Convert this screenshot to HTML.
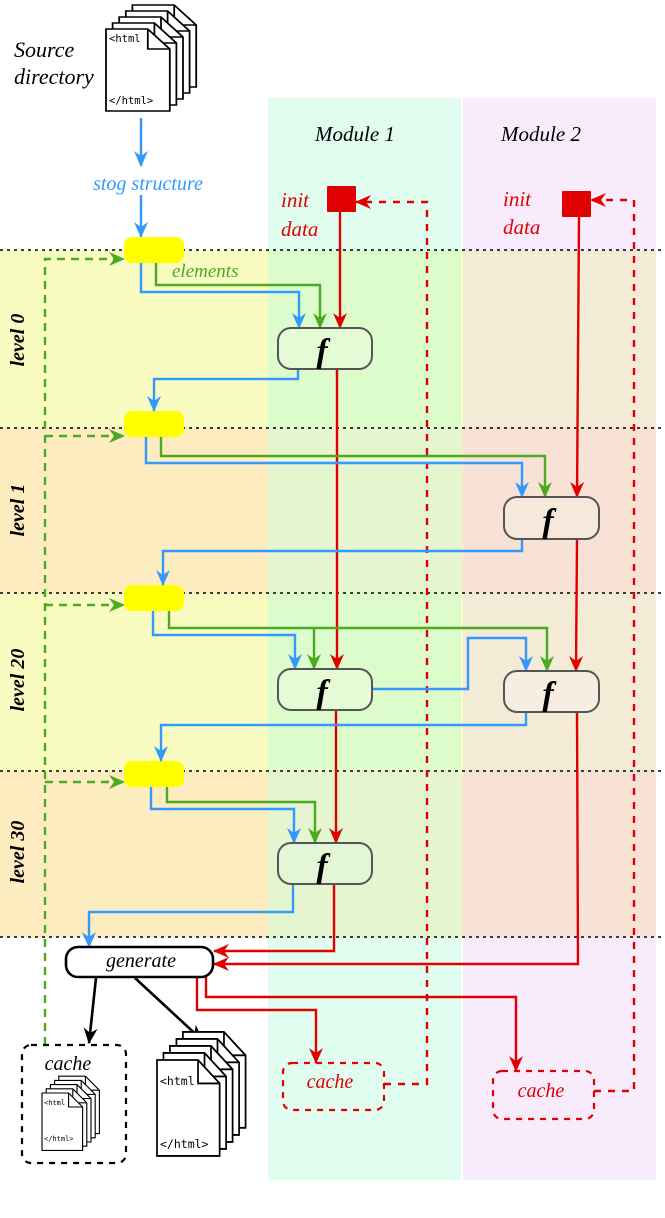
<!DOCTYPE html>
<html><head><meta charset="utf-8"><style>
html,body{margin:0;padding:0;background:#fff}
svg{display:block}
.it{font-family:"Liberation Serif",serif;font-style:italic}
.mono{font-family:"DejaVu Sans Mono","Liberation Mono",monospace}
</style></head><body>
<svg width="665" height="1218" viewBox="0 0 665 1218" xmlns="http://www.w3.org/2000/svg">
<defs>
<marker id="ab" markerUnits="userSpaceOnUse" markerWidth="18" markerHeight="18" refX="15" refY="8" orient="auto"><path d="M0,1 L16,8 L0,15 L5,8 z" fill="#3399ff"/></marker>
<marker id="ag" markerUnits="userSpaceOnUse" markerWidth="18" markerHeight="18" refX="15" refY="8" orient="auto"><path d="M0,1 L16,8 L0,15 L5,8 z" fill="#4aaa22"/></marker>
<marker id="ar" markerUnits="userSpaceOnUse" markerWidth="18" markerHeight="18" refX="15" refY="8" orient="auto"><path d="M0,1 L16,8 L0,15 L5,8 z" fill="#e00000"/></marker>
<marker id="ak" markerUnits="userSpaceOnUse" markerWidth="18" markerHeight="18" refX="15" refY="8" orient="auto"><path d="M0,1 L16,8 L0,15 L5,8 z" fill="#000"/></marker>
<g id="page">
<path d="M0,0 L38,0 L58,20 L58,82 L0,82 z" fill="#fff" stroke="#000" stroke-width="1.6"/>
<path d="M38,0 L38,20 L58,20" fill="none" stroke="#000" stroke-width="1.6"/>
</g>
<g id="stack">
<use href="#page" x="24" y="-24"/><use href="#page" x="18" y="-18"/><use href="#page" x="12" y="-12"/><use href="#page" x="6" y="-6"/><use href="#page" x="0" y="0"/>
</g>
</defs>

<rect x="268" y="98" width="193" height="1082" fill="#e0fdf0"/>
<rect x="463" y="98" width="193" height="1082" fill="#f8ecfc"/>
<rect x="0" y="250" width="268" height="178" fill="#f8fcc0"/>
<rect x="268" y="250" width="193" height="178" fill="#ddfccc"/>
<rect x="461" y="250" width="2" height="178" fill="#f8fcc0"/>
<rect x="463" y="250" width="193" height="178" fill="#f3ebd6"/>
<rect x="0" y="428" width="268" height="165" fill="#fdecc0"/>
<rect x="268" y="428" width="193" height="165" fill="#e4f5d0"/>
<rect x="461" y="428" width="2" height="165" fill="#fdecc0"/>
<rect x="463" y="428" width="193" height="165" fill="#f8e2d6"/>
<rect x="0" y="593" width="268" height="178" fill="#f8fcc0"/>
<rect x="268" y="593" width="193" height="178" fill="#ddfccc"/>
<rect x="461" y="593" width="2" height="178" fill="#f8fcc0"/>
<rect x="463" y="593" width="193" height="178" fill="#f3ebd6"/>
<rect x="0" y="771" width="268" height="166" fill="#fdecc0"/>
<rect x="268" y="771" width="193" height="166" fill="#e4f5d0"/>
<rect x="461" y="771" width="2" height="166" fill="#fdecc0"/>
<rect x="463" y="771" width="193" height="166" fill="#f8e2d6"/>

<g stroke="#000" stroke-width="1.5" stroke-dasharray="3,4">
<line x1="0" y1="250" x2="665" y2="250"/><line x1="0" y1="428" x2="665" y2="428"/>
<line x1="0" y1="593" x2="665" y2="593"/><line x1="0" y1="771" x2="665" y2="771"/>
<line x1="0" y1="937" x2="665" y2="937"/>
</g>

<g transform="translate(106,29) scale(1.1,1.0)"><use href="#stack"/></g>
<text x="109" y="42" class="mono" font-size="10.5">&lt;html</text>
<text x="109" y="104" class="mono" font-size="10.5">&lt;/html&gt;</text>
<text x="14" y="57" class="it" font-size="22">Source</text>
<text x="14" y="84" class="it" font-size="22">directory</text>

<line x1="141" y1="118" x2="141" y2="166" stroke="#3399ff" stroke-width="2.4" marker-end="url(#ab)"/>
<text x="148" y="190" class="it" font-size="20" fill="#3399ff" text-anchor="middle">stog structure</text>
<line x1="141" y1="195" x2="141" y2="237" stroke="#3399ff" stroke-width="2.4" marker-end="url(#ab)"/>

<text x="355" y="141" class="it" font-size="21" text-anchor="middle">Module 1</text>
<text x="541" y="141" class="it" font-size="21" text-anchor="middle">Module 2</text>

<text x="281" y="207" class="it" font-size="21" fill="#e00000">init</text>
<text x="281" y="236" class="it" font-size="21" fill="#e00000">data</text>
<text x="503" y="206" class="it" font-size="21" fill="#e00000">init</text>
<text x="503" y="234" class="it" font-size="21" fill="#e00000">data</text>
<rect x="327" y="186" width="29" height="26" fill="#e00000" rx="1"/>
<rect x="562" y="191" width="29" height="26" fill="#e00000" rx="1"/>

<g class="it" font-size="20" font-weight="bold" text-anchor="middle">
<text x="24" y="340" transform="rotate(-90 24 340)">level 0</text>
<text x="24" y="510" transform="rotate(-90 24 510)">level 1</text>
<text x="24" y="680" transform="rotate(-90 24 680)">level 20</text>
<text x="24" y="852" transform="rotate(-90 24 852)">level 30</text>
</g>

<g stroke="#4aaa22" stroke-width="2.4" fill="none" stroke-dasharray="8,6">
<path d="M45,1045 L45,259 L124,259" marker-end="url(#ag)"/>
<path d="M45,436 L124,436" marker-end="url(#ag)"/>
<path d="M45,605 L124,605" marker-end="url(#ag)"/>
<path d="M45,782 L124,782" marker-end="url(#ag)"/>
</g>

<g fill="#ffff00">
<rect x="124" y="237" width="60" height="26" rx="8"/>
<rect x="124" y="411" width="60" height="26" rx="8"/>
<rect x="124" y="585" width="60" height="26" rx="8"/>
<rect x="124" y="761" width="60" height="26" rx="8"/>
</g>
<text x="172" y="277" class="it" font-size="19" fill="#4aaa22">elements</text>

<g stroke="#e00000" stroke-width="2.4" fill="none" stroke-dasharray="7,7">
<path d="M384,1084 L427,1084 L427,202 L356,202" marker-end="url(#ar)"/>
<path d="M594,1091 L634,1091 L634,200 L591,200" marker-end="url(#ar)"/>
</g>

<g stroke="#e00000" stroke-width="2.4" fill="none">
<path d="M340,212 L340,328" marker-end="url(#ar)"/>
<path d="M579,217 L577,497" marker-end="url(#ar)"/>
<path d="M337,369 L337,669" marker-end="url(#ar)"/>
<path d="M577,539 L576,671" marker-end="url(#ar)"/>
<path d="M336,710 L336,843" marker-end="url(#ar)"/>
<path d="M334,884 L334,951 L214,951" marker-end="url(#ar)"/>
<path d="M577,712 L578,964 L214,964" marker-end="url(#ar)"/>
<path d="M197,977 L197,1010 L316,1010 L316,1063" marker-end="url(#ar)"/>
<path d="M206,977 L206,997 L516,997 L516,1071" marker-end="url(#ar)"/>
</g>

<g stroke="#3399ff" stroke-width="2.4" fill="none">
<path d="M141,263 L141,292 L299,292 L299,328" marker-end="url(#ab)"/>
<path d="M298,369 L298,379 L154,379 L154,411" marker-end="url(#ab)"/>
<path d="M146,437 L146,463 L522,463 L522,497" marker-end="url(#ab)"/>
<path d="M522,539 L522,551 L163,551 L163,585" marker-end="url(#ab)"/>
<path d="M153,611 L153,635 L295,635 L295,669" marker-end="url(#ab)"/>
<path d="M372,689 L468,689 L468,638 L526,638 L526,671" marker-end="url(#ab)"/>
<path d="M526,712 L526,725 L161,725 L161,761" marker-end="url(#ab)"/>
<path d="M151,787 L151,809 L294,809 L294,843" marker-end="url(#ab)"/>
<path d="M293,884 L293,912 L89,912 L89,947" marker-end="url(#ab)"/>
</g>

<g stroke="#4aaa22" stroke-width="2.4" fill="none">
<path d="M156,263 L156,285 L320,285 L320,328" marker-end="url(#ag)"/>
<path d="M161,437 L161,456 L545,456 L545,497" marker-end="url(#ag)"/>
<path d="M169,611 L169,628 L547,628 L547,671" marker-end="url(#ag)"/>
<path d="M314,628 L314,669" marker-end="url(#ag)"/>
<path d="M167,787 L167,802 L315,802 L315,843" marker-end="url(#ag)"/>
</g>

<g stroke="#555" stroke-width="2">
<rect x="278" y="328" width="94" height="41" rx="13" fill="#e4fbd6"/>
<rect x="504" y="497" width="95" height="42" rx="13" fill="#f7e8dc"/>
<rect x="278" y="669" width="94" height="41" rx="13" fill="#e4fbd6"/>
<rect x="504" y="671" width="95" height="41" rx="13" fill="#f7ede0"/>
<rect x="278" y="843" width="94" height="41" rx="13" fill="#e4f6d8"/>
</g>
<g class="it" font-size="34" font-weight="bold" text-anchor="middle">
<text x="322" y="362">f</text>
<text x="548" y="532">f</text>
<text x="322" y="703">f</text>
<text x="548" y="705">f</text>
<text x="322" y="877">f</text>
</g>

<rect x="66" y="947" width="147" height="30" rx="12" fill="#fff" stroke="#000" stroke-width="2.6"/>
<text x="141" y="967" class="it" font-size="20" text-anchor="middle">generate</text>
<line x1="96" y1="978" x2="89" y2="1043" stroke="#000" stroke-width="2.6" marker-end="url(#ak)"/>
<line x1="135" y1="978" x2="202" y2="1040" stroke="#000" stroke-width="2.6" marker-end="url(#ak)"/>

<rect x="22" y="1045" width="104" height="118" rx="9" fill="none" stroke="#000" stroke-width="2.2" stroke-dasharray="6,6"/>
<text x="68" y="1070" class="it" font-size="20" text-anchor="middle">cache</text>
<g transform="translate(42,1093) scale(0.7)"><use href="#stack"/></g>
<text x="44" y="1105" class="mono" font-size="7">&lt;html</text>
<text x="44" y="1141" class="mono" font-size="7">&lt;/html&gt;</text>

<g transform="translate(157,1060) scale(1.08,1.17)"><use href="#stack"/></g>
<text x="160" y="1085" class="mono" font-size="11.5">&lt;html</text>
<text x="160" y="1148" class="mono" font-size="11.5">&lt;/html&gt;</text>

<rect x="283" y="1063" width="101" height="47" rx="9" fill="none" stroke="#e00000" stroke-width="2.2" stroke-dasharray="6,6"/>
<text x="330" y="1088" class="it" font-size="20" fill="#e00000" text-anchor="middle">cache</text>
<rect x="493" y="1071" width="101" height="48" rx="9" fill="none" stroke="#e00000" stroke-width="2.2" stroke-dasharray="6,6"/>
<text x="541" y="1097" class="it" font-size="20" fill="#e00000" text-anchor="middle">cache</text>
</svg>
</body></html>
